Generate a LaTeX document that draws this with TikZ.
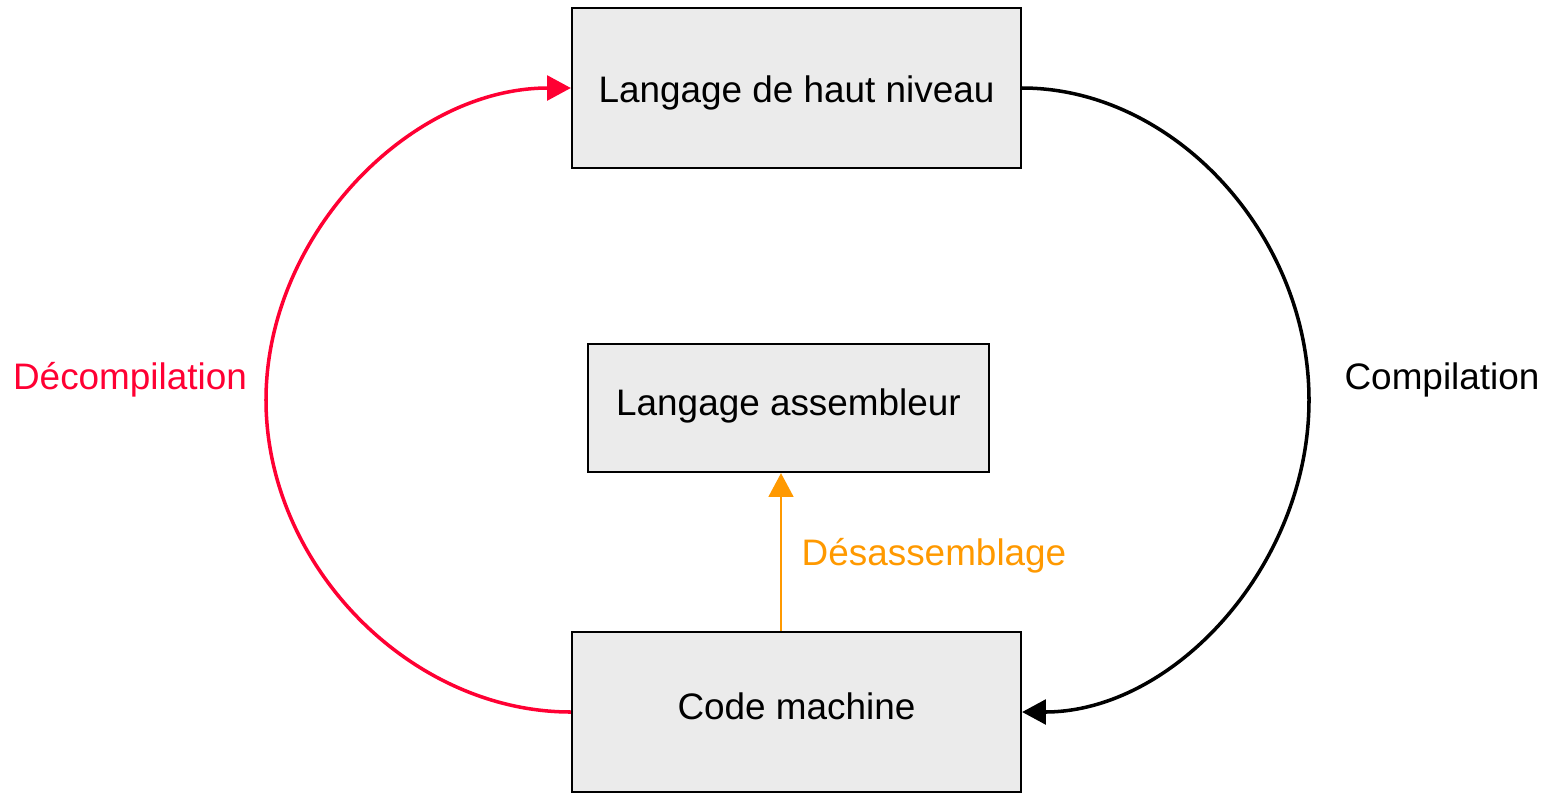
\documentclass[tikz,border=0pt]{standalone}
\usepackage{fontspec}
\setmainfont{Liberation Sans}
\usepackage{xcolor}
\usepackage{tikz}
\usetikzlibrary{arrows.meta}

\definecolor{boxgray}{HTML}{EBEBEB}
\definecolor{decred}{HTML}{FF0033}
\definecolor{disorange}{HTML}{FF9900}

\begin{document}
\begin{tikzpicture}[x=0.02cm, y=-0.02cm,
  every node/.style={font=\fontsize{21}{25}\selectfont},
  box/.style={draw, fill=boxgray, line width=1.3pt, inner sep=0pt, text depth=0pt},
  flow/.style={line width=2pt, -{Triangle[length=13.5pt, width=14pt]}}]
\useasboundingbox (0,0) rectangle (1549,792);

\node[box, minimum width=8.98cm, minimum height=3.2cm, text height=0.57cm] (high) at (796.5,88) {Langage de haut niveau};
\node[box, minimum width=8.02cm, minimum height=2.56cm, text height=0.28cm] (asm) at (788.5,408) {Langage assembleur};
\node[box, minimum width=8.98cm, minimum height=3.2cm, text height=0.30cm] (code) at (796.5,712) {Code machine};

\node[text=decred, anchor=base] (decomp) at (130,389) {Décompilation};
\node[anchor=base] (comp) at (1442,389) {Compilation};
\node[text=disorange, anchor=base] (disasm) at (934,565) {Désassemblage};

% decompilation, compilation, disassembly
\draw[flow, decred] (code.west) .. controls (410,712) and (266,565) .. (266,400)
  .. controls (266,235) and (410,88) .. (high.west);
\draw[flow] (high.east) .. controls (1174,88) and (1309,235) .. (1309,400)
  .. controls (1309,565) and (1174,712) .. (code.east);
\draw[flow, disorange, line width=1.6pt] (code.north -| 781,0) -- (asm.south -| 781,0);
\end{tikzpicture}
\end{document}
